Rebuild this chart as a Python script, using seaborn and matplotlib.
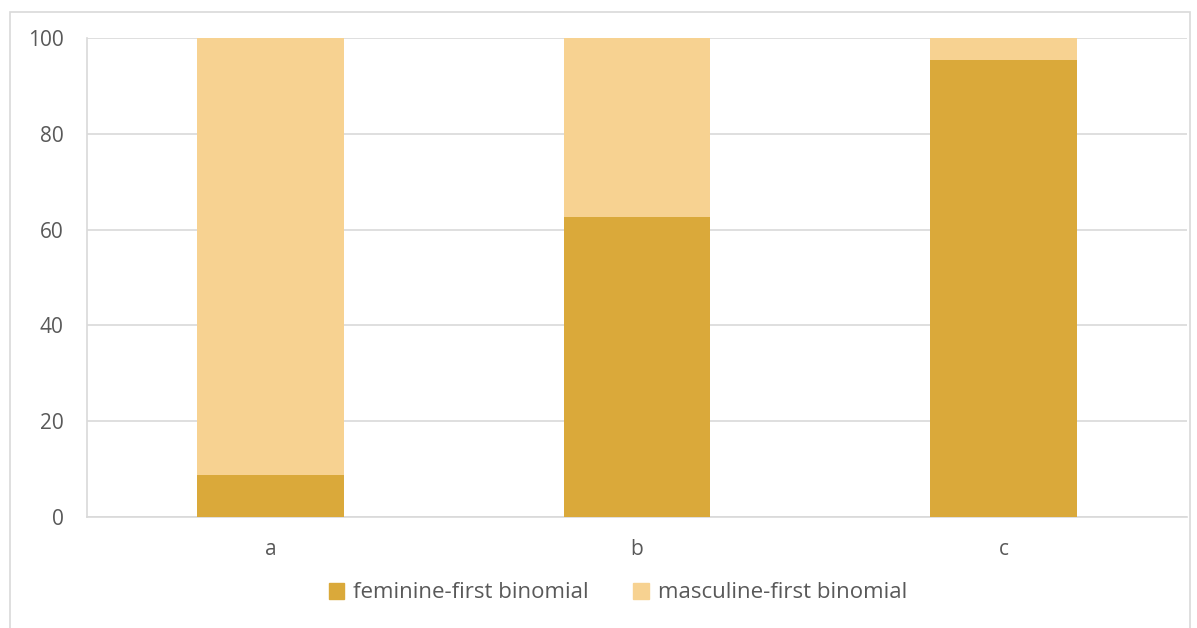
import pandas as pd
import seaborn as sns
import matplotlib.pyplot as plt
from matplotlib.patches import Patch, Rectangle

categories = ["a", "b", "c"]
feminine_first = [8.8, 62.6, 95.4]
masculine_first = [91.2, 37.4, 4.6]
series_names = ["feminine-first binomial", "masculine-first binomial"]
yticks = [0, 20, 40, 60, 80, 100]

dark = "#DAA93A"
light = "#F7D291"
grid_c = "#D9D9D9"
text_c = "#595959"

sns.set_theme(style="white")
plt.rcParams["font.family"] = ["Open Sans", "DejaVu Sans"]

df = pd.DataFrame({"cat": categories, "fem": feminine_first,
                   "total": [f + m for f, m in zip(feminine_first, masculine_first)]})

fig = plt.figure(figsize=(11.97, 6.28), dpi=100)
ax = fig.add_axes([87 / 1197, 1 - 517 / 628, 1100 / 1197, 479 / 628])

# stacked: full bar in light, feminine part drawn over it in dark
sns.barplot(data=df, x="cat", y="total", color=light, width=0.4, saturation=1,
            linewidth=0, ax=ax, zorder=2)
sns.barplot(data=df, x="cat", y="fem", color=dark, width=0.4, saturation=1,
            linewidth=0, ax=ax, zorder=3)

ax.set_ylim(0, 100)
ax.set_xlim(-0.5, 2.5)
ax.set_yticks(yticks)
ax.yaxis.grid(True, color=grid_c, linewidth=1.2)
ax.set_axisbelow(True)
for s in ["top", "right"]:
    ax.spines[s].set_visible(False)
for s in ["left", "bottom"]:
    ax.spines[s].set_color(grid_c)
    ax.spines[s].set_linewidth(1.2)
ax.set_xlabel("")
ax.set_ylabel("")
ax.tick_params(axis="y", labelsize=15, labelcolor=text_c, length=0, pad=17)
ax.tick_params(axis="x", labelsize=15, labelcolor=text_c, length=0, pad=16)

handles = [Patch(color=dark, label=series_names[0]), Patch(color=light, label=series_names[1])]
fig.legend(handles=handles, loc="center", bbox_to_anchor=(618 / 1197, 1 - 593 / 628),
           ncol=2, frameon=False, fontsize=16, labelcolor=text_c,
           handlelength=0.7, handleheight=0.7, handletextpad=0.4, columnspacing=2.0)

# outer chart frame
fig.patches.append(Rectangle((10 / 1197, -0.01), 1180 / 1197, 1 - 12 / 628 + 0.01,
                             transform=fig.transFigure, fill=False,
                             edgecolor=grid_c, linewidth=1.2))

fig.savefig("out.png", dpi=100)
